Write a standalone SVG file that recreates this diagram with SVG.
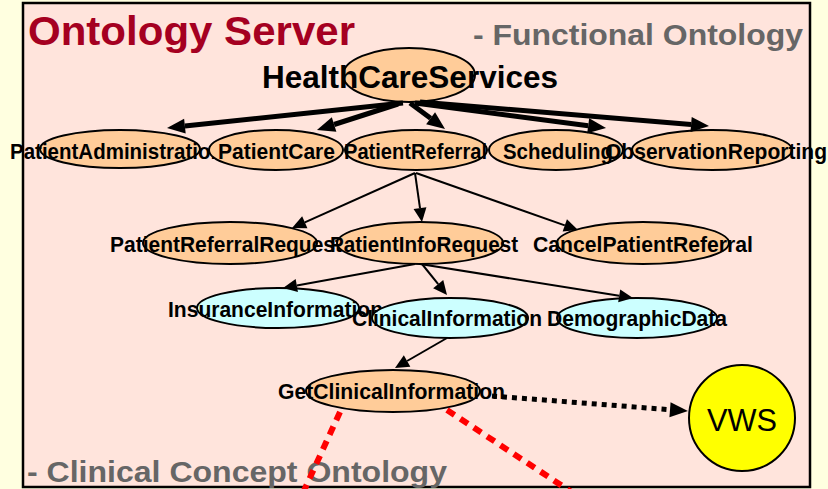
<svg xmlns="http://www.w3.org/2000/svg" width="828" height="489" viewBox="0 0 828 489">
  <style>
    .panel { fill: #FFE4DC; stroke: #000; stroke-width: 2.5; }
    .svc { fill: #FFCC99; stroke: #000; stroke-width: 2; }
    .info { fill: #CCFFFF; stroke: #000; stroke-width: 2; }
    .ext { fill: #FFFF00; stroke: #000; stroke-width: 2; }
    .lbl { font-family: "Liberation Sans", Arial, sans-serif; font-weight: bold; font-size: 21.5px; fill: #000; }
    .big { font-size: 31.5px; }
    .title { font-family: "Liberation Sans", Arial, sans-serif; font-weight: bold; font-size: 40px; fill: #A50021; }
    .sub { font-family: "Liberation Sans", Arial, sans-serif; font-weight: bold; font-size: 29px; fill: #666666; }
    .vws { font-family: "Liberation Sans", Arial, sans-serif; font-size: 32px; fill: #000; }
    .thick { stroke: #000; stroke-width: 5; fill: none; marker-end: url(#headBig); }
    .thin { stroke: #000; stroke-width: 2; fill: none; marker-end: url(#headSmall); }
    .dots { stroke: #000; stroke-width: 5; fill: none; stroke-dasharray: 5 5; marker-end: url(#headBig); }
    .red { stroke: #FF0000; stroke-width: 6; fill: none; stroke-dasharray: 9 7; }
  </style>
  <defs>
    <marker id="headBig" markerUnits="userSpaceOnUse" markerWidth="20" markerHeight="20" refX="0" refY="0" orient="auto" overflow="visible">
      <path d="M0,-7.5 L18,0 L0,7.5 Z" fill="#000"/>
    </marker>
    <marker id="headSmall" markerUnits="userSpaceOnUse" markerWidth="16" markerHeight="16" refX="0" refY="0" orient="auto" overflow="visible">
      <path d="M0,-6.5 L14,0 L0,6.5 Z" fill="#000"/>
    </marker>
  </defs>

  <!-- page and server panel -->
  <rect x="0" y="0" width="828" height="489" fill="#FFFFE0"/>
  <rect class="panel" x="23" y="3" width="787" height="484"/>
  <text class="title" x="28" y="45" textLength="327" lengthAdjust="spacingAndGlyphs">Ontology Server</text>
  <text class="sub" x="473" y="45" textLength="330" lengthAdjust="spacingAndGlyphs">- Functional Ontology</text>

  <!-- nodes -->
  <g id="HealthCareServices">
    <ellipse class="svc" cx="409" cy="75" rx="66" ry="27"/>
    <text class="lbl big" x="262" y="88" textLength="296" lengthAdjust="spacingAndGlyphs">HealthCareServices</text>
  </g>
  <g id="PatientAdministration">
    <ellipse class="svc" cx="120" cy="149" rx="80" ry="19"/>
    <text class="lbl" x="10" y="159" textLength="213" lengthAdjust="spacingAndGlyphs">PatientAdministration</text>
  </g>
  <g id="PatientCare">
    <ellipse class="svc" cx="276" cy="150" rx="67" ry="20"/>
    <text class="lbl" x="218" y="159" textLength="117" lengthAdjust="spacingAndGlyphs">PatientCare</text>
  </g>
  <g id="PatientReferral">
    <ellipse class="svc" cx="416" cy="150" rx="71" ry="20"/>
    <text class="lbl" x="344" y="159" textLength="143" lengthAdjust="spacingAndGlyphs">PatientReferral</text>
  </g>
  <g id="Scheduling">
    <ellipse class="svc" cx="556" cy="150" rx="67" ry="20"/>
    <text class="lbl" x="503" y="159" textLength="110" lengthAdjust="spacingAndGlyphs">Scheduling</text>
  </g>
  <g id="ObservationReporting">
    <ellipse class="svc" cx="712" cy="150" rx="80" ry="20"/>
    <text class="lbl" x="605" y="159" textLength="222" lengthAdjust="spacingAndGlyphs">ObservationReporting</text>
  </g>
  <g id="PatientReferralRequest">
    <ellipse class="svc" cx="230" cy="243" rx="87" ry="21"/>
    <text class="lbl" x="110" y="252" textLength="232" lengthAdjust="spacingAndGlyphs">PatientReferralRequest</text>
  </g>
  <g id="PatientInfoRequest">
    <ellipse class="svc" cx="420" cy="243" rx="83" ry="21"/>
    <text class="lbl" x="330" y="252" textLength="188" lengthAdjust="spacingAndGlyphs">PatientInfoRequest</text>
  </g>
  <g id="CancelPatientReferral">
    <ellipse class="svc" cx="643" cy="243" rx="86" ry="21"/>
    <text class="lbl" x="533" y="252" textLength="220" lengthAdjust="spacingAndGlyphs">CancelPatientReferral</text>
  </g>
  <g id="InsuranceInformation">
    <ellipse class="info" cx="278" cy="308" rx="81" ry="20"/>
    <text class="lbl" x="168" y="317" textLength="215" lengthAdjust="spacingAndGlyphs">InsuranceInformation</text>
  </g>
  <g id="ClinicalInformation">
    <ellipse class="info" cx="450" cy="318" rx="78" ry="20"/>
    <text class="lbl" x="352" y="326" textLength="190" lengthAdjust="spacingAndGlyphs">ClinicalInformation</text>
  </g>
  <g id="DemographicData">
    <ellipse class="info" cx="637" cy="318" rx="80" ry="20"/>
    <text class="lbl" x="547" y="326" textLength="180" lengthAdjust="spacingAndGlyphs">DemographicData</text>
  </g>
  <g id="GetClinicalInformation">
    <ellipse class="svc" cx="393" cy="391" rx="87" ry="21"/>
    <text class="lbl" x="278" y="399" textLength="227" lengthAdjust="spacingAndGlyphs">GetClinicalInformation</text>
  </g>
  <g id="VWS">
    <circle class="ext" cx="742" cy="418" r="53"/>
    <text class="vws" x="707" y="431" textLength="70" lengthAdjust="spacingAndGlyphs">VWS</text>
  </g>

  <text class="sub" x="27" y="482" textLength="420" lengthAdjust="spacingAndGlyphs">- Clinical Concept Ontology</text>

  <!-- connectors -->
  <g id="connectors">
    <line class="thick" x1="403" y1="103" x2="184.9" y2="126.1"/>
    <line class="thick" x1="398" y1="104" x2="334.1" y2="124.5"/>
    <line class="thick" x1="410" y1="103" x2="430.6" y2="118.3"/>
    <line class="thick" x1="415" y1="103" x2="588.2" y2="125.7"/>
    <line class="thick" x1="420" y1="102" x2="691.1" y2="124.5"/>

    <line class="thin" x1="415" y1="173" x2="304.8" y2="222.3"/>
    <line class="thin" x1="415" y1="173" x2="420" y2="208.1"/>
    <line class="thin" x1="416" y1="173" x2="564.8" y2="225.4"/>

    <line class="thin" x1="415" y1="264" x2="296.8" y2="285.5"/>
    <line class="thin" x1="422" y1="264" x2="438.2" y2="284.1"/>
    <line class="thin" x1="420" y1="264" x2="619.2" y2="295.8"/>

    <line class="thin" x1="447" y1="338" x2="407.1" y2="361"/>

    <line class="dots" x1="492" y1="396" x2="670" y2="409.7"/>

    <line class="red" x1="340" y1="412" x2="302" y2="495"/>
    <line class="red" x1="447" y1="410" x2="576" y2="495"/>
  </g>
</svg>
